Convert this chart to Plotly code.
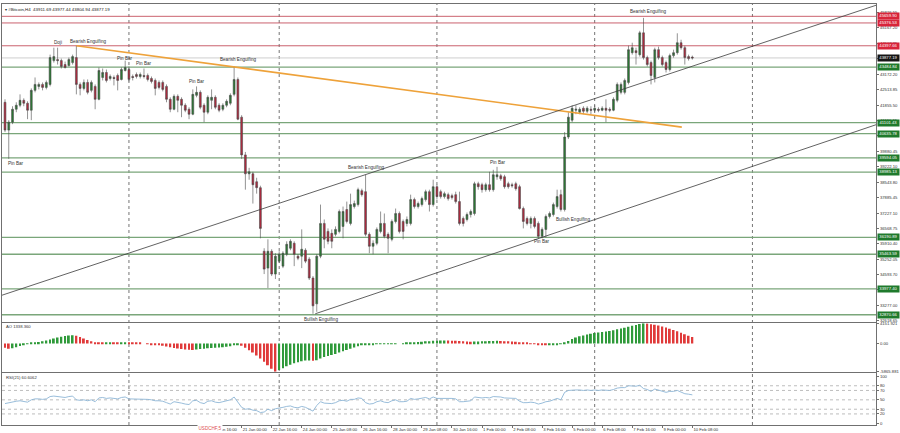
import plotly.graph_objects as go
from plotly.subplots import make_subplots

# ---------------- data ----------------
bar_index = list(range(184))

opens = [41976, 40785, 41125, 41678, 41849, 42061, 41934, 41636, 42487, 42657,
         42742, 42614, 42742, 43763, 43806, 43763, 43593, 43550, 43678, 43891,
         42742, 42572, 42827, 42487, 42657, 42104, 43040, 43252, 42997, 43040,
         43125, 42955, 43338, 43380, 43082, 43167, 43082, 43125, 43125, 42997,
         42912, 42827, 42827, 42657, 42104, 41678, 42231, 42104, 41849, 41678,
         41465, 42274, 42401, 41849, 41550, 42061, 42189, 41849, 41678, 41849,
         41934, 42316, 42955, 41338, 39721, 38912, 38912, 38572, 38317, 35593,
         34870, 35593, 34615, 35168, 34955, 35466, 35721, 35934, 35381, 35381,
         35636, 35253, 34445, 33338, 35381, 36785, 36444, 36359, 36317, 36444,
         36657, 37381, 36785, 37508, 37593, 38189, 38146, 36317, 35806, 35934,
         36444, 36785, 36317, 36104, 36870, 37210, 36870, 36785, 36785, 37806,
         37508, 37593, 37806, 38146, 37593, 38359, 38146, 37934, 38019, 37976,
         38019, 37721, 36998, 36955, 37168, 37210, 38487, 38444, 38232, 38444,
         38232, 38785, 38827, 38785, 38487, 38444, 38487, 38359, 37423, 36998,
         36785, 36998, 36785, 36232, 36530, 37083, 37168, 37508, 38019, 37381,
         40487, 41210, 41636, 41550, 41721, 41593, 41678, 41636, 41678, 41636,
         41721, 41678, 41636, 42061, 42401, 42401, 42827, 44103, 44188, 44018,
         44954, 43891, 43678, 43040, 44231, 43891, 43678, 43380, 43976, 44103,
         44529, 44316, 43933, 43911.69]
highs = [42104, 41210, 41806, 41976, 42316, 42146, 42019, 42572, 43040, 42827,
         42827, 42912, 44018, 44316, 44316, 43848, 43720, 43891, 44018, 44401,
         42827, 42955, 42955, 42912, 42742, 43465, 43423, 43380, 43167, 43125,
         43210, 43465, 43763, 43508, 43167, 43252, 43252, 43423, 43210, 43082,
         42997, 42912, 42912, 42742, 42189, 42316, 42316, 42189, 41934, 41763,
         42529, 42657, 42487, 41934, 42274, 42529, 42274, 41934, 41934, 42104,
         42359, 43508, 43040, 41423, 39848, 39168, 38997, 38742, 38402, 35721,
         36104, 35679, 35508, 35593, 35593, 36019, 36104, 36019, 35466, 36530,
         35721, 35338, 34530, 35466, 37593, 36955, 36572, 36530, 36657, 37381,
         37508, 37721, 38061, 37763, 38317, 38274, 38870, 36402, 36061, 36615,
         37296, 37210, 36402, 36955, 37423, 37296, 36955, 37083, 38019, 37891,
         37721, 37934, 38232, 38232, 38657, 38444, 38232, 38146, 38104, 38061,
         38146, 38146, 37083, 37253, 37381, 38572, 38572, 38529, 38529, 38997,
         39083, 39210, 38912, 38870, 38572, 38529, 38572, 38444, 37508, 37083,
         37083, 37083, 36870, 36615, 37168, 37296, 37678, 38232, 38232, 40699,
         41550, 41849, 41849, 41763, 41806, 41806, 41806, 41849, 41763, 41806,
         42104, 41763, 42189, 42827, 42827, 42997, 44401, 44529, 44316, 45039,
         45593, 43976, 43763, 44316, 44358, 43976, 43763, 44061, 44231, 44933,
         44657, 44401, 44018, 43977.44]
lows = [40699, 39551, 41040, 41550, 41763, 41806, 41253, 41210, 42401, 42529,
        42487, 42529, 42657, 43678, 43593, 43423, 43423, 43508, 43593, 42316,
        42274, 42487, 42316, 42401, 41678, 42061, 42912, 42827, 42912, 42699,
        42487, 42912, 43295, 42869, 42912, 42997, 42997, 42997, 42869, 42784,
        42274, 42529, 42444, 41976, 41550, 41636, 41550, 41338, 41550, 41253,
        41423, 42189, 41678, 41125, 41465, 41678, 41678, 41550, 41593, 41763,
        41849, 42231, 41210, 39551, 38232, 38657, 37636, 38061, 36146, 34615,
        34019, 34530, 34402, 35083, 34870, 35381, 35636, 34955, 35211, 34870,
        35083, 34360, 32913, 32998, 35296, 35721, 35891, 35721, 36232, 36359,
        36146, 36785, 36700, 37423, 37508, 37934, 36232, 35508, 35466, 35848,
        36359, 36146, 35508, 36019, 36785, 36359, 36104, 36657, 36700, 37423,
        37423, 37508, 37721, 37296, 37508, 37806, 37849, 37849, 37763, 37806,
        37636, 36700, 36657, 36870, 37040, 37125, 38232, 38104, 38146, 38146,
        38146, 38657, 38614, 38274, 38274, 38317, 38189, 37381, 36572, 36700,
        36572, 36572, 36146, 36146, 36189, 36998, 37083, 37423, 37296, 37296,
        40402, 41125, 41465, 41465, 41465, 41508, 41465, 41550, 41550, 41593,
        41125, 41550, 41593, 41976, 42316, 42316, 42742, 44018, 43593, 43933,
        43806, 43508, 42742, 42827, 43806, 43508, 43252, 43295, 43891, 44018,
        44231, 43593, 43763, 43804.94]
closes = [40785, 41125, 41678, 41849, 42061, 41934, 41636, 42487, 42742, 42742,
          42614, 42827, 43891, 43933, 43763, 43508, 43465, 43806, 43933, 42742,
          42572, 42827, 42401, 42827, 42104, 43338, 43252, 42912, 43082, 42997,
          42912, 43380, 43465, 42955, 43040, 43082, 43167, 43082, 42955, 42869,
          42572, 42614, 42529, 42104, 41678, 42231, 42061, 41849, 41636, 41465,
          42316, 42401, 41763, 41550, 42189, 42189, 41763, 41636, 41849, 42019,
          42274, 42955, 41253, 39721, 38912, 38997, 38444, 38317, 36572, 34827,
          35593, 34615, 35381, 35466, 35508, 35891, 36019, 35466, 35296, 35679,
          35168, 34445, 33253, 35381, 36785, 36104, 36019, 36019, 36530, 37296,
          37296, 36870, 37593, 37636, 38232, 38019, 36317, 35806, 35934, 36530,
          36785, 36232, 36146, 36870, 37210, 36444, 36444, 36955, 37806, 37508,
          37636, 37849, 38146, 37593, 38359, 37934, 37934, 38061, 37849, 37891,
          37721, 36785, 36785, 37168, 37296, 38487, 38359, 38232, 38444, 38232,
          38870, 38870, 38700, 38359, 38359, 38402, 38274, 37423, 36870, 36785,
          36998, 36657, 36232, 36530, 37083, 37210, 37593, 37934, 37381, 40487,
          41338, 41721, 41678, 41678, 41593, 41721, 41636, 41721, 41636, 41721,
          41636, 41636, 42104, 42742, 42742, 42912, 44231, 44316, 44103, 44954,
          43891, 43593, 43125, 44231, 43891, 43593, 43380, 43976, 44103, 44529,
          44316, 43891, 43848, 43877.19]

ao_values = [-900, -1100, -1000, -800, -550, -300, -120, 40, 150, 300,
             450, 600, 800, 1000, 1200, 1350, 1500, 1620, 1700, 1600,
             1300, 1000, 700, 420, 250, 150, 110, 150, 200, 180,
             150, 200, 250, 200, 150, 100, 50, 0, -100, -200,
             -300, -400, -500, -650, -800, -950, -1050, -1150, -1250, -1300,
             -1350, -1250, -1150, -1100, -1000, -950, -900, -850, -800, -700,
             -600, -350, -250, -500, -900, -1400, -1900, -2500, -3100, -3800,
             -4500, -5200, -5865.881, -5500, -5100, -4700, -4400, -4100, -3900, -3700,
             -3550, -3500, -3600, -3450, -3100, -2800, -2600, -2400, -2200, -1900,
             -1600, -1350, -1100, -850, -600, -400, -300, -250, -200, -150,
             -100, -80, -60, -50, -20, 0, 20, 50, 120, 200,
             280, 350, 420, 460, 520, 560, 580, 600, 590, 570,
             540, 480, 420, 380, 360, 380, 400, 430, 460, 480,
             500, 520, 500, 460, 420, 380, 330, 250, 150, 50,
             -50, -150, -250, -320, -350, -330, -280, -200, -150, 100,
             500, 900, 1200, 1450, 1650, 1850, 2000, 2150, 2250, 2350,
             2450, 2550, 2700, 2900, 3050, 3200, 3450, 3650, 3800, 4000,
             4151.921, 4100, 3950, 3850, 3700, 3500, 3250, 3000, 2750, 2500,
             2200, 1900, 1600, 1338.36]

rsi_values = [42, 44, 46, 47, 48, 47, 45, 50, 52, 52,
              51, 52, 57, 58, 57, 55, 55, 57, 58, 50,
              49, 50, 48, 50, 46, 54, 55, 53, 54, 53,
              52, 55, 56, 52, 52, 51, 52, 52, 51, 50,
              48, 48, 47, 44, 41, 46, 45, 43, 41, 40,
              48, 49, 44, 42, 47, 48, 45, 44, 46, 48,
              50, 56, 44, 34, 30, 31, 28, 27, 23, 24,
              30, 27, 31, 32, 34, 36, 37, 34, 33, 36,
              34, 30, 26, 38, 46, 43, 42, 42, 44, 48,
              49, 47, 51, 51, 54, 53, 44, 41, 42, 46,
              48, 45, 44, 48, 50, 46, 46, 47, 53, 51,
              52, 53, 55, 52, 56, 53, 53, 54, 53, 53,
              52, 46, 46, 47, 48, 56, 55, 54, 55, 54,
              57, 57, 56, 54, 54, 54, 53, 47, 44, 44,
              45, 44, 41, 43, 46, 47, 50, 53, 50, 66,
              70, 71, 71, 71, 70, 71, 70, 71, 70, 71,
              71, 70, 72, 75, 76, 76, 80, 80, 79, 81,
              74, 72, 68, 73, 71, 69, 66, 68, 68, 70,
              67, 63, 62, 60.6062]

x_tick_bars = [55, 63, 71, 79, 87, 95, 103, 111, 119, 127, 135, 143, 151, 159, 167, 175, 183]
x_tick_labels = ["19 Jan 16:00", "21 Jan 00:00", "22 Jan 16:00", "24 Jan 00:00", "25 Jan 08:00",
                 "26 Jan 16:00", "28 Jan 00:00", "29 Jan 08:00", "30 Jan 16:00", "1 Feb 00:00",
                 "2 Feb 08:00", "3 Feb 16:00", "5 Feb 00:00", "6 Feb 08:00", "7 Feb 16:00",
                 "9 Feb 00:00", "10 Feb 08:00"]
week_grid_bars = [33, 73, 115, 157, 199]

price_tick_values = [32618.65, 33277.00, 33935.35, 34593.70, 35252.05, 35910.40, 36568.75,
                     37227.10, 37885.45, 38543.80, 39222.10, 39880.45, 40538.80, 41196.15,
                     41855.50, 42513.85, 43172.20, 43848.50, 44507.85, 45167.20, 45826.55]
ao_tick_values = [4151.921, 0.0, -5865.881]
ao_tick_labels = ["4151.921", "0.00", "-5865.881"]
rsi_tick_values = [0, 20, 30, 50, 70, 80, 100]
rsi_levels = [20, 30, 50, 70, 80]

red_levels = [45659.90, 45376.53, 44397.66]
green_levels = [43484.84, 41101.43, 40635.78, 39594.05, 38985.13, 36190.89, 35463.59, 33977.40, 32870.66]
current_price = 43877.19

orange_line_bars = [19, 180.2]
orange_line_prices = [44401, 40912]
upper_channel_bars = [-0.8, 231.9]
upper_channel_prices = [33709, 46133]
lower_channel_bars = [82.6, 231.9]
lower_channel_prices = [32913, 41014]

pattern_texts = ["Doji", "Bearish Engulfing", "Pin Bar", "Pin Bar", "Pin Bar", "Bearish Engulfing",
                 "Pin Bar", "Bearish Engulfing", "Pin Bar", "Bullish Engulfing", "Pin Bar",
                 "Bullish Engulfing", "Bearish Engulfing"]
pattern_bars = [14.2, 22.1, 31.9, 37.1, 51.1, 62.0, 2.9, 96.1, 131.3, 151.2, 143.1, 84.1, 171.2]
pattern_prices = [44529, 44571, 43861, 43648, 42870, 43818, 39351, 39180, 39380, 36942, 36019, 32680, 45878]

header_text = "\u25be #Bitcoin,H4  43911.69 43977.44 43804.94 43877.19"
ao_title = "AO 1338.360"
rsi_title = "RSI(21) 60.6062"

# ---------------- styling ----------------
FONT = "Liberation Sans"
GREEN_C = "#2a7a33"
RED_C = "#b2283d"
WICK = "#4a4a4a"
BORDER = "#707070"

fig = make_subplots(rows=3, cols=1, shared_xaxes=True, vertical_spacing=0)

fig.add_trace(go.Candlestick(
    x=bar_index, open=opens, high=highs, low=lows, close=closes,
    increasing=dict(fillcolor=GREEN_C, line=dict(color=WICK, width=0.6)),
    decreasing=dict(fillcolor=RED_C, line=dict(color=WICK, width=0.6)),
    whiskerwidth=0, showlegend=False, hoverinfo="skip"), row=1, col=1)

for bx, py, col, w in [(orange_line_bars, orange_line_prices, "#eea23a", 1.6),
                       (upper_channel_bars, upper_channel_prices, "#3a3a3a", 0.8),
                       (lower_channel_bars, lower_channel_prices, "#3a3a3a", 0.8)]:
    fig.add_trace(go.Scatter(x=bx, y=py, mode="lines", line=dict(color=col, width=w),
                             showlegend=False, hoverinfo="skip"), row=1, col=1)

ao_colors = []
for k, v in enumerate(ao_values):
    if k == 0:
        ao_colors.append("#e03a3a")
    else:
        ao_colors.append("#2f9a3a" if v >= ao_values[k - 1] else "#e03a3a")
fig.add_trace(go.Bar(x=bar_index, y=ao_values, marker=dict(color=ao_colors, line=dict(width=0)),
                     showlegend=False, hoverinfo="skip"), row=2, col=1)

fig.add_trace(go.Scatter(x=bar_index, y=rsi_values, mode="lines",
                         line=dict(color="#8db6d6", width=0.9),
                         showlegend=False, hoverinfo="skip"), row=3, col=1)

shapes = []
for b in week_grid_bars:
    shapes.append(dict(type="line", xref="x", yref="paper", x0=b, x1=b, y0=0, y1=1,
                       line=dict(color="#505050", width=0.8, dash="dot"), layer="below"))
for lv in rsi_levels:
    shapes.append(dict(type="line", xref="x3 domain", yref="y3", x0=0, x1=1, y0=lv, y1=lv,
                       line=dict(color="#a0a0a0", width=0.7, dash="dot"), layer="below"))
for lv in red_levels:
    shapes.append(dict(type="line", xref="x domain", yref="y", x0=0, x1=1, y0=lv, y1=lv,
                       line=dict(color="#c4505e", width=0.9), layer="below"))
for lv in green_levels:
    shapes.append(dict(type="line", xref="x domain", yref="y", x0=0, x1=1, y0=lv, y1=lv,
                       line=dict(color="#7aa67a", width=1.3), layer="below"))
shapes.append(dict(type="line", xref="x domain", yref="y", x0=0, x1=1, y0=current_price, y1=current_price,
                   line=dict(color="#c8c8c8", width=0.9), layer="below"))

annotations = []
for lv in red_levels:
    annotations.append(dict(xref="paper", yref="y", x=1, y=lv, xanchor="left", xshift=0.5,
                            text=f"{lv:.2f}", showarrow=False, bgcolor="#d8243a", width=20,
                            borderpad=0.4, font=dict(family=FONT, size=4.2, color="white")))
annotations.append(dict(xref="paper", yref="y", x=1, y=current_price, xanchor="left", xshift=0.5,
                        text=f"{current_price:.2f}", showarrow=False, bgcolor="#151515", width=20,
                        borderpad=0.4, font=dict(family=FONT, size=4.2, color="white")))
for lv in green_levels:
    annotations.append(dict(xref="paper", yref="y", x=1, y=lv, xanchor="left", xshift=0.5,
                            text=f"{lv:.2f}", showarrow=False, bgcolor="#1f7a2c", width=20,
                            borderpad=0.4, font=dict(family=FONT, size=4.2, color="white")))
for t, bx, py in zip(pattern_texts, pattern_bars, pattern_prices):
    annotations.append(dict(xref="x", yref="y", x=bx, y=py, text=t, showarrow=False,
                            font=dict(family=FONT, size=4.6, color="#333333")))
annotations.append(dict(xref="paper", yref="paper", x=0.001, y=0.998, xanchor="left", yanchor="top",
                        text=header_text, showarrow=False,
                        font=dict(family=FONT, size=4.4, color="#222222")))
annotations.append(dict(xref="paper", yref="paper", x=0.002, y=0.2335, xanchor="left", yanchor="middle",
                        text=ao_title, showarrow=False, font=dict(family=FONT, size=4.2, color="#333333")))
annotations.append(dict(xref="paper", yref="paper", x=0.002, y=0.1132, xanchor="left", yanchor="middle",
                        text=rsi_title, showarrow=False, font=dict(family=FONT, size=4.2, color="#333333")))
annotations.append(dict(xref="paper", yref="paper", x=0.2385, y=-0.008, xanchor="center", yanchor="middle",
                        text="USDCHF,5", showarrow=False, bgcolor="white", borderpad=0.5,
                        font=dict(family=FONT, size=4.6, color="#e05050")))

x_common = dict(range=[-0.8, 231.9], showgrid=False, zeroline=False, showline=True, mirror=True,
                linecolor=BORDER, linewidth=1.2)
fig.update_layout(
    width=900, height=433, autosize=False,
    margin=dict(l=2, r=24, t=1, b=8),
    paper_bgcolor="white", plot_bgcolor="white",
    font=dict(family=FONT, size=4.2, color="#333333"),
    bargap=0.5,
    shapes=shapes, annotations=annotations,
    xaxis=dict(**x_common, showticklabels=False, ticks="", rangeslider=dict(visible=False)),
    xaxis2=dict(**x_common, showticklabels=False, ticks=""),
    xaxis3=dict(**x_common, tickmode="array", tickvals=x_tick_bars, ticktext=x_tick_labels,
                ticks="outside", ticklen=2, tickcolor=BORDER, ticklabelposition="outside right",
                tickangle=0, tickfont=dict(family=FONT, size=4.2, color="#333333")),
    yaxis=dict(domain=[0.2441, 1.0], range=[32551, 46188], side="right", showgrid=False, zeroline=False,
               tickmode="array", tickvals=price_tick_values, ticktext=[f"{v:.2f}" for v in price_tick_values],
               ticks="outside", ticklen=2, tickcolor=BORDER, showline=True, mirror=True,
               linecolor=BORDER, linewidth=1.2, tickfont=dict(family=FONT, size=4.2, color="#333333")),
    yaxis2=dict(domain=[0.1262, 0.2417], range=[-5865.881, 4151.921], side="right", showgrid=False,
                zeroline=False, tickmode="array", tickvals=ao_tick_values, ticktext=ao_tick_labels,
                ticks="outside", ticklen=2, tickcolor=BORDER, showline=True, mirror=True,
                linecolor=BORDER, linewidth=1.2, tickfont=dict(family=FONT, size=4.2, color="#333333")),
    yaxis3=dict(domain=[0.0, 0.1238], range=[-3.6, 107.4], side="right", showgrid=False, zeroline=False,
                tickmode="array", tickvals=rsi_tick_values, ticks="outside", ticklen=2, tickcolor=BORDER,
                showline=True, mirror=True, linecolor=BORDER, linewidth=1.2,
                tickfont=dict(family=FONT, size=4.2, color="#333333")),
)

fig.write_html("out.html", config={"displayModeBar": False},
               post_script="document.body.style.margin='0';document.body.style.overflow='hidden';")
